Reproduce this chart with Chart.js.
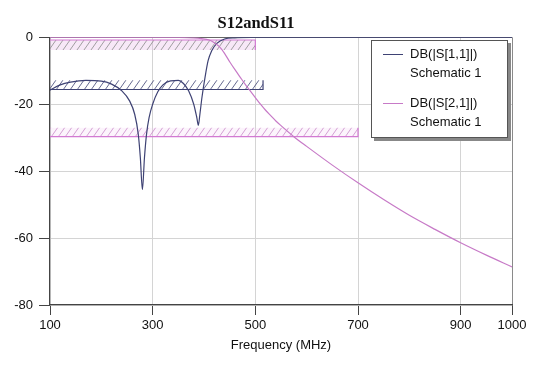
<!DOCTYPE html>
<html>
<head>
<meta charset="utf-8">
<script src="https://cdn.jsdelivr.net/npm/chart.js@4/dist/chart.umd.min.js"></script>
<style>
  body { margin: 0; background: #fff; }
  .wrap { position: relative; width: 548px; height: 365px; }
  .legend_box {
    position: absolute; left: 371px; top: 40px; width: 135px; height: 96px;
    border: 1px solid #555; background: #fff; box-shadow: 3px 3px 0 #888;
    font: 13px "Liberation Sans", Arial, sans-serif; color: #111;
  }
  .legend_item { position: absolute; left: 0; }
  .legend_item .swatch { position: absolute; left: 11px; width: 20px; height: 0; border-top: 1px solid; }
  .legend_item .txt { position: absolute; left: 38px; white-space: nowrap; line-height: 19px; }
</style>
</head>
<body>
<div class="wrap">
  <canvas id="chart"></canvas>
  <div class="legend_box" id="legend"></div>
</div>
<script>
// frequency axis (MHz)
const xTicks = [100, 300, 500, 700, 900, 1000]
const yTicks = [0, -20, -40, -60, -80]

// DB(|S[1,1]|)
const s11Freq = [100, 120, 140, 170, 200, 220, 240, 255, 265, 272, 276, 280, 284, 288, 293, 300, 310, 320, 335, 350, 360, 370, 380, 386, 389, 392, 396, 402, 408, 415, 425, 440, 460, 500, 600, 1000]
const s11Db = [-15.8, -14.2, -13.4, -12.9, -13.1, -14, -16, -19, -23, -29, -36, -45.5, -36, -29, -24, -20, -16.3, -14.2, -13, -12.9, -13.8, -16, -20, -24, -26.3, -23, -18, -12, -7, -4, -1.8, -0.5, -0.15, -0.05, 0, 0]

// DB(|S[2,1]|)
const s21Freq = [100, 200, 300, 350, 380, 395, 410, 420, 430, 440, 450, 460, 470, 480, 490, 500, 510, 520, 530, 540, 550, 575, 600, 650, 700, 750, 800, 850, 900, 950, 1000]
const s21Db = [0, 0, 0, -0.05, -0.2, -0.4, -0.8, -1.6, -2.8, -4.8, -7.3, -9.6, -11.8, -14, -16, -18, -20, -21.8, -23.4, -25, -26.4, -29.7, -32.6, -38.2, -43.5, -48.5, -53.2, -57.4, -61.4, -65.1, -68.6]

// optimisation goals (hatched bands)
const goalStart = [100, 100, 100]
const goalStop = [500, 515, 700]
const goalLine = [-0.8, -15.6, -29.7]
const goalHatchTo = [-3.8, -12.8, -27]
const goalColor = ['#d27ad2', '#3e4274', '#d27ad2']
const goalHatch = ['#8a8a8a', '#3e4274', '#c98ac9']
const goalTint = ['rgba(230,180,230,0.3)', 'rgba(255,255,255,0)', 'rgba(240,200,240,0.2)']

const hatch = (line, tint) => {
    const c = document.createElement('canvas')
    c.width = 7
    c.height = 10
    const g = c.getContext('2d')
    g.fillStyle = tint
    g.fillRect(0, 0, 7, 10)
    g.strokeStyle = line
    g.lineWidth = 0.8
    g.beginPath()
    g.moveTo(-1, 11.4); g.lineTo(8, -1.4)
    g.moveTo(-8, 11.4); g.lineTo(1, -1.4)
    g.moveTo(6, 11.4); g.lineTo(15, -1.4)
    g.stroke()
    return g.createPattern(c, 'repeat')
}

let datasets = []
for (let i in goalStart){
    datasets.push({
        data: [{x: goalStart[i], y: goalHatchTo[i]}, {x: goalStop[i], y: goalHatchTo[i]}],
        borderWidth: 0,
        pointRadius: 0,
        order: 2,
        fill: {value: goalLine[i]},
        backgroundColor: hatch(goalHatch[i], goalTint[i])
    })
    datasets.push({
        data: [{x: goalStart[i], y: goalLine[i]}, {x: goalStop[i], y: goalLine[i]}, {x: goalStop[i], y: goalHatchTo[i]}],
        borderColor: goalColor[i],
        borderWidth: 1.2,
        pointRadius: 0,
        order: 1,
        fill: false
    })
}
datasets.push({
    label: 'DB(|S[2,1]|)',
    data: s21Freq.map((f, i) => ({x: f, y: s21Db[i]})),
    borderColor: '#c77ac7',
    borderWidth: 1.2,
    pointRadius: 0,
    order: 0,
    cubicInterpolationMode: 'monotone',
    fill: false
})
datasets.push({
    label: 'DB(|S[1,1]|)',
    data: s11Freq.map((f, i) => ({x: f, y: s11Db[i]})),
    borderColor: '#3e4274',
    borderWidth: 1.2,
    pointRadius: 0,
    order: 0,
    cubicInterpolationMode: 'monotone',
    fill: false
})

const font = {family: '"Liberation Sans", Arial, sans-serif', size: 13}

new Chart(document.getElementById('chart'), {
    type: 'line',
    data: {datasets: datasets},
    options: {
        responsive: true,
        maintainAspectRatio: false,
        animation: false,
        layout: {padding: {left: 0, right: 36, top: 0, bottom: 0}},
        plugins: {
            legend: {display: false},
            tooltip: {enabled: false},
            title: {
                display: true,
                text: 'S12andS11',
                color: '#111',
                font: {family: '"Liberation Serif", "Times New Roman", serif', size: 16.5, weight: 'bold'},
                padding: {top: 14, bottom: 3.5}
            }
        },
        scales: {
            x: {
                type: 'linear',
                min: 100,
                max: 1000,
                afterBuildTicks: scale => { scale.ticks = xTicks.map(v => ({value: v})) },
                afterFit: scale => { scale.height = 60 },
                ticks: {color: '#111', font: font, padding: 3, maxRotation: 0, autoSkip: false, callback: v => String(v)},
                grid: {
                    color: ctx => ctx.tick && ctx.tick.value == 1000 ? '#8a8a8a' : '#d4d4d4',
                    tickColor: '#444',
                    tickLength: 10,
                    lineWidth: 1
                },
                border: {color: '#444', width: 1.2},
                title: {display: true, text: 'Frequency (MHz)', color: '#111', font: font, padding: {top: 0, bottom: 12}}
            },
            y: {
                min: -80,
                max: 0,
                afterBuildTicks: scale => { scale.ticks = yTicks.map(v => ({value: v})) },
                afterFit: scale => { scale.width = 50 },
                ticks: {color: '#111', font: font, padding: 6, callback: v => String(v)},
                grid: {
                    color: ctx => ctx.tick && ctx.tick.value == 0 ? '#666' : '#d4d4d4',
                    tickColor: '#444',
                    tickLength: 11,
                    lineWidth: 1
                },
                border: {color: '#444', width: 1.2}
            }
        }
    }
})

// legend drawn as html, two lines per entry
const legend_items = [
    {name: 'DB(|S[1,1]|)', sub: 'Schematic 1', color: '#3e4274', top: 3},
    {name: 'DB(|S[2,1]|)', sub: 'Schematic 1', color: '#c77ac7', top: 52}
]
document.getElementById('legend').innerHTML = legend_items.map(item => `
    <div class="legend_item" style="top:${item.top}px;">
        <div class="swatch" style="top:10px;border-color:${item.color};"></div>
        <div class="txt" style="top:0;">${item.name}</div>
        <div class="txt" style="top:19px;">${item.sub}</div>
    </div>`).join('')
</script>
</body>
</html>
